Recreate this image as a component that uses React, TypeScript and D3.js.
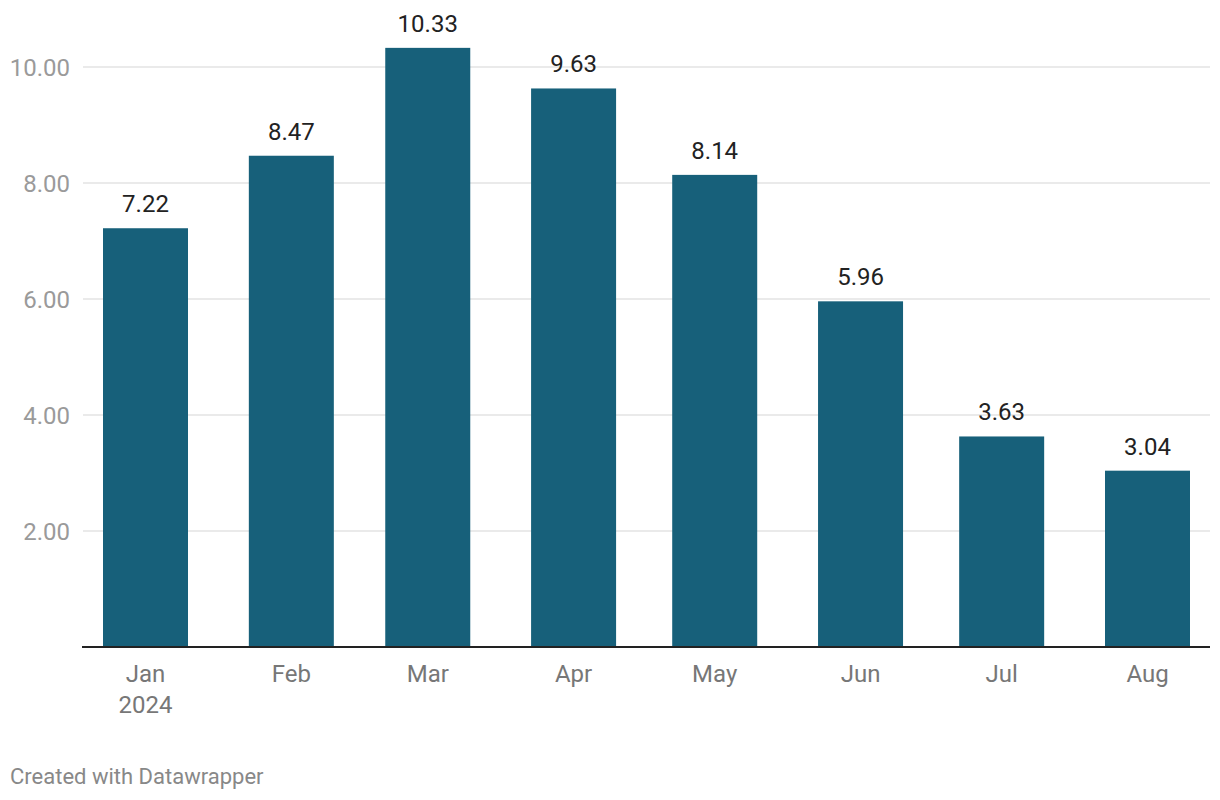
import React from "react";
import * as d3 from "d3";

const months = ["2024-01-01", "2024-02-01", "2024-03-01", "2024-04-01", "2024-05-01", "2024-06-01", "2024-07-01", "2024-08-01"];
const monthLabels = ["Jan", "Feb", "Mar", "Apr", "May", "Jun", "Jul", "Aug"];
const values = [7.22, 8.47, 10.33, 9.63, 8.14, 5.96, 3.63, 3.04];
const yTicks = [2, 4, 6, 8, 10];

const W = 1220;
const H = 800;
const FONT = "Roboto, 'Noto Sans', sans-serif";

export default function App() {
  const parse = d3.timeParse("%Y-%m-%d");
  const dates = months.map((m) => parse(m) as Date);
  const x = d3.scaleTime().domain([dates[0], dates[dates.length - 1]]).range([145.5, 1147.5]);
  const y = d3.scaleLinear().domain([0, 10]).range([647, 67]);
  const barW = 85;
  const fmt = d3.format(".2f");

  return (
    <svg width={W} height={H} style={{ position: "absolute", left: 0, top: 0, background: "#fff" }} fontFamily={FONT}>
      {yTicks.map((t) => (
        <g key={t}>
          <line x1={83} x2={1210} y1={y(t)} y2={y(t)} stroke="#e3e3e3" strokeWidth={1.5} />
          <text x={70} y={y(t)} dy="0.36em" textAnchor="end" fontSize={24} fill="#9a9a9a">
            {fmt(t)}
          </text>
        </g>
      ))}
      {values.map((v, i) => (
        <g key={i}>
          <rect x={x(dates[i]) - barW / 2} y={y(v)} width={barW} height={y(0) - y(v)} fill="#17607a" />
          <text x={x(dates[i])} y={y(v) - 16} textAnchor="middle" fontSize={24} fill="#222">
            {fmt(v)}
          </text>
          <text x={x(dates[i])} y={682} textAnchor="middle" fontSize={24} fill="#777">
            {monthLabels[i]}
          </text>
          {i === 0 && (
            <text x={x(dates[i])} y={713} textAnchor="middle" fontSize={24} fill="#777">
              2024
            </text>
          )}
        </g>
      ))}
      <line x1={82} x2={1210} y1={y(0)} y2={y(0)} stroke="#222" strokeWidth={2} />
      <text x={10} y={784} fontSize={22} fill="#888">
        Created with Datawrapper
      </text>
    </svg>
  );
}
